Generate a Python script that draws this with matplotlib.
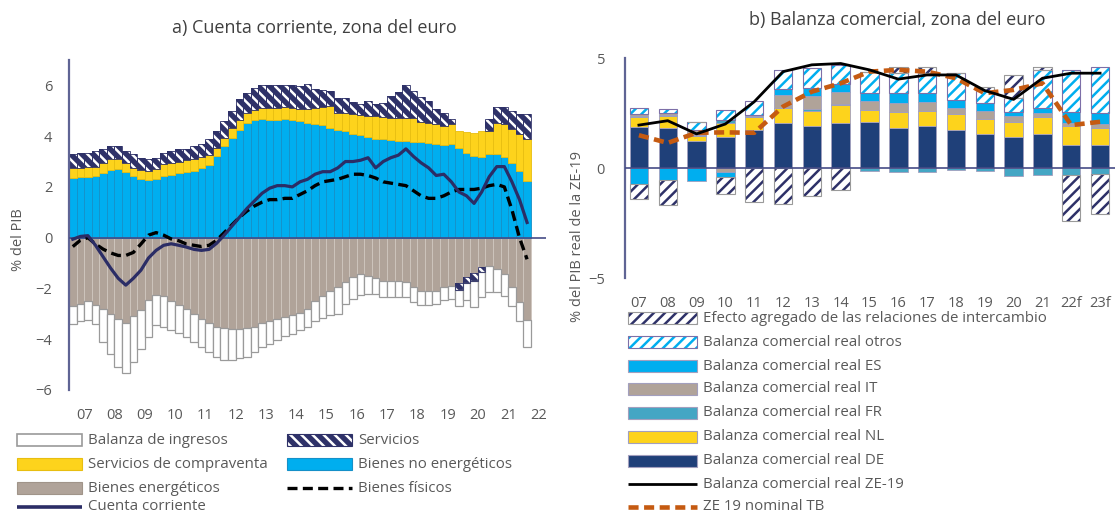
import matplotlib
matplotlib.use('Agg')
import matplotlib.pyplot as plt
import numpy as np
from matplotlib.patches import Rectangle

plt.rcParams['font.family'] = ['Open Sans', 'DejaVu Sans']
plt.rcParams['hatch.linewidth'] = 1.8

# ---------------- Panel a) data (quarterly 2007Q1 - 2022Q1) ----------------
years_a = ['07', '08', '09', '10', '11', '12', '13', '14', '15', '16', '17', '18', '19', '20', '21', '22']

bienes_energeticos = [
    -2.68, -2.60, -2.50, -2.65, -2.80, -3.00, -3.20, -3.35, -3.10, -2.85, -2.45, -2.25,
    -2.30, -2.50, -2.65, -2.80, -3.00, -3.20, -3.35, -3.50, -3.55, -3.60, -3.60, -3.55,
    -3.50, -3.35, -3.30, -3.20, -3.14, -3.05, -2.95, -2.80, -2.50, -2.30, -2.10, -1.95,
    -1.75, -1.55, -1.45, -1.50, -1.60, -1.70, -1.70, -1.70, -1.75, -1.95, -2.10, -2.10,
    -2.10, -1.95, -1.90, -1.80, -1.55, -1.40, -1.15, -1.10, -1.25, -1.45, -1.95, -2.55,
    -3.25]
bienes_no_energeticos = [
    2.37, 2.38, 2.40, 2.43, 2.55, 2.68, 2.70, 2.60, 2.42, 2.32, 2.27, 2.32,
    2.42, 2.47, 2.55, 2.58, 2.64, 2.74, 2.87, 3.20, 3.60, 3.93, 4.25, 4.50,
    4.65, 4.68, 4.65, 4.65, 4.67, 4.64, 4.60, 4.53, 4.47, 4.43, 4.33, 4.24,
    4.20, 4.10, 4.03, 3.97, 3.90, 3.87, 3.85, 3.81, 3.81, 3.77, 3.75, 3.72,
    3.68, 3.64, 3.68, 3.55, 3.35, 3.22, 3.16, 3.29, 3.29, 3.16, 2.96, 2.64,
    2.24]
servicios_compraventa = [
    0.39, 0.38, 0.38, 0.37, 0.41, 0.41, 0.39, 0.36, 0.34, 0.33, 0.36, 0.38,
    0.47, 0.49, 0.45, 0.47, 0.46, 0.44, 0.40, 0.34, 0.33, 0.40, 0.40, 0.40,
    0.39, 0.42, 0.45, 0.45, 0.46, 0.46, 0.46, 0.53, 0.63, 0.70, 0.84, 0.69,
    0.70, 0.76, 0.81, 0.83, 0.88, 0.89, 0.88, 0.92, 0.92, 0.93, 0.81, 0.81,
    0.79, 0.76, 0.79, 0.65, 0.81, 0.91, 1.04, 0.91, 1.24, 1.31, 1.31, 1.43,
    1.64]
servicios = [
    0.53, 0.57, 0.57, 0.62, 0.54, 0.51, 0.51, 0.46, 0.53, 0.47, 0.46, 0.45,
    0.46, 0.46, 0.48, 0.45, 0.50, 0.52, 0.61, 0.67, 0.67, 0.67, 0.80, 0.80,
    0.86, 0.90, 0.90, 0.90, 0.87, 0.90, 0.92, 0.98, 0.77, 0.69, 0.61, 0.59,
    0.59, 0.49, 0.43, 0.60, 0.49, 0.56, 0.85, 0.99, 1.27, 1.08, 0.99, 0.87,
    0.59, 0.53, 0.20, -0.25, -0.25, -0.30, -0.20, 0.47, 0.60, 0.66, 0.73, 0.79,
    0.98]
balanza_ingresos = [
    -0.72, -0.70, -0.75, -0.75, -1.30, -1.60, -1.90, -2.00, -1.80, -1.55, -1.45, -1.20,
    -1.20, -1.15, -1.10, -1.10, -1.10, -1.10, -1.15, -1.20, -1.25, -1.20, -1.15, -1.15,
    -1.00, -0.95, -0.90, -0.85, -0.73, -0.75, -0.70, -0.70, -0.80, -0.85, -0.95, -1.05,
    -0.85, -0.85, -0.80, -0.70, -0.60, -0.65, -0.65, -0.65, -0.60, -0.60, -0.55, -0.55,
    -0.50, -0.50, -0.50, -0.65, -0.65, -1.05, -1.00, -1.05, -0.90, -0.85, -0.75, -0.75,
    -1.05]
bienes_fisicos = [
    -0.35, -0.10, 0.00, -0.25, -0.45, -0.60, -0.70, -0.70, -0.58, -0.25, 0.10, 0.20,
    0.10, -0.05, -0.12, -0.25, -0.30, -0.35, -0.30, -0.10, 0.20, 0.50, 0.80, 1.05,
    1.25, 1.40, 1.50, 1.50, 1.55, 1.55, 1.70, 1.85, 2.05, 2.20, 2.25, 2.30,
    2.40, 2.50, 2.50, 2.45, 2.35, 2.20, 2.15, 2.10, 2.05, 1.85, 1.65, 1.55,
    1.55, 1.65, 1.80, 1.90, 1.90, 1.90, 1.95, 2.05, 2.10, 2.00, 1.10, 0.00,
    -0.85]
cuenta_corriente = [
    -0.06, 0.05, 0.08, -0.30, -0.75, -1.20, -1.60, -1.87, -1.60, -1.28, -0.80, -0.50,
    -0.30, -0.24, -0.30, -0.37, -0.46, -0.50, -0.46, -0.22, 0.10, 0.45, 0.80, 1.15,
    1.45, 1.75, 1.95, 2.05, 2.05, 2.00, 2.20, 2.30, 2.50, 2.60, 2.60, 2.75,
    3.00, 3.00, 3.05, 3.15, 2.75, 3.00, 3.15, 3.25, 3.50, 3.20, 2.95, 2.75,
    2.45, 2.50, 2.20, 1.80, 1.65, 1.35, 1.80, 2.40, 2.80, 2.80, 2.20, 1.50,
    0.60]

# ---------------- Panel b) data (annual 2007 - 2023f) ----------------
years_b = ['07', '08', '09', '10', '11', '12', '13', '14', '15', '16', '17', '18', '19', '20', '21', '22f', '23f']
bc_DE = [1.87, 1.84, 1.22, 1.42, 1.72, 2.06, 1.90, 2.06, 2.10, 1.84, 1.90, 1.72, 1.54, 1.39, 1.54, 1.04, 1.04]
bc_NL = [0.43, 0.52, 0.23, 0.63, 0.58, 0.65, 0.70, 0.80, 0.53, 0.72, 0.70, 0.73, 0.67, 0.71, 0.76, 0.86, 0.80]
bc_FR = [0.05, 0.05, 0.07, 0.13, 0.05, 0.03, 0.10, 0.05, -0.15, -0.20, -0.20, -0.10, -0.12, -0.37, -0.30, -0.30, -0.25]
bc_IT = [0.10, 0.07, 0.20, -0.18, 0.05, 0.56, 0.57, 0.54, 0.42, 0.41, 0.41, 0.26, 0.39, 0.26, 0.21, 0.13, 0.14]
bc_ES = [-0.74, -0.56, -0.60, -0.22, 0.00, 0.28, 0.36, 0.38, 0.35, 0.43, 0.39, 0.38, 0.34, 0.20, 0.20, 0.53, 0.50]
bc_otros = [0.28, 0.22, 0.38, 0.45, 0.65, 0.88, 0.91, 0.83, 0.98, 0.90, 0.90, 1.25, 0.56, 0.61, 1.75, 1.89, 2.13]
efecto_rel_intercambio = [-0.66, -1.10, 0.00, -0.80, -1.55, -1.63, -1.29, -0.99, 0.00, 0.30, 0.30, 0.00, 0.20, 1.06, 0.15, -2.09, -1.86]
bc_real_ZE19 = [1.95, 2.15, 1.55, 2.00, 3.01, 4.38, 4.69, 4.75, 4.46, 4.04, 4.23, 4.23, 3.52, 3.12, 4.08, 4.31, 4.31]
ze19_nominal_TB = [1.49, 1.14, 1.60, 1.62, 1.60, 2.79, 3.47, 3.85, 4.38, 4.46, 4.38, 4.08, 3.40, 3.55, 3.85, 1.95, 2.10]

# ---------------- styles ----------------
GREY_TXT = '#595959'
NAVY = '#2E3168'
BLUE = '#00AEEF'
YELLOW = '#FDD31C'
BROWN = '#B0A399'
DEBLUE = '#1F4079'
TEAL = '#44A6C4'
ORANGE = '#C55A11'
AXCOL = '#5F6494'
LEG_FS = 10.8

W, H = 1116, 517
fig = plt.figure(figsize=(W / 100, H / 100), dpi=100)


def rect(x0, y0, x1, y1):
    return [x0 / W, 1 - y1 / H, (x1 - x0) / W, (y1 - y0) / H]


def stacked(ax, x, series, width):
    pos = np.zeros(len(x))
    neg = np.zeros(len(x))
    for vals, st in series:
        v = np.array(vals, dtype=float)
        bottom = np.where(v >= 0, pos, neg)
        hatch = st.get('hatch')
        if hatch:
            ax.bar(x, v, bottom=bottom, width=width, color=st['face'], edgecolor=st['hcol'],
                   hatch=hatch, linewidth=0, zorder=2)
            ax.bar(x, v, bottom=bottom, width=width, fill=False, edgecolor=st['edge'],
                   linewidth=st.get('lw', 0.6), zorder=2.1)
        else:
            ax.bar(x, v, bottom=bottom, width=width, color=st['face'], edgecolor=st['edge'],
                   linewidth=st.get('lw', 0.6), zorder=2)
        pos = pos + np.clip(v, 0, None)
        neg = neg + np.clip(v, None, 0)


def style_axis(ax):
    for s in ['top', 'right', 'bottom']:
        ax.spines[s].set_visible(False)
    ax.spines['left'].set_color(AXCOL)
    ax.spines['left'].set_linewidth(1.6)
    ax.tick_params(axis='both', length=0, colors=GREY_TXT, labelsize=10.5)
    ax.axhline(0, color='#454C86', lw=1.2, zorder=3)
    ax.set_facecolor('none')


# ---------------- Panel a ----------------
axL = fig.add_axes(rect(69, 60, 546, 390))
n = len(cuenta_corriente)
xq = np.arange(n)
stacked(axL, xq, [
    (bienes_energeticos, dict(face=BROWN, edge='#CFC6BF', lw=0.6)),
    (bienes_no_energeticos, dict(face=BLUE, edge='#1590C8', lw=0.6)),
    (servicios_compraventa, dict(face=YELLOW, edge='#E8BE10', lw=0.6)),
    (servicios, dict(face=NAVY, hcol='white', hatch='\\\\\\', edge=NAVY, lw=0.6)),
    (balanza_ingresos, dict(face='white', edge='#9A9A9A', lw=0.9)),
], width=1.0)
axL.plot(xq, bienes_fisicos, color='black', lw=2.4, dashes=(3, 1.6), zorder=4)
axL.plot(xq, cuenta_corriente, color='#2B2D66', lw=2.3, zorder=5)
axL.set_xlim(-0.5, 62.5)
axL.set_ylim(-6, 7)
axL.set_yticks([-6, -4, -2, 0, 2, 4, 6])
axL.set_xticks(np.arange(len(years_a)) * 4 + 1.5)
axL.set_xticklabels(years_a)
style_axis(axL)
axL.tick_params(axis='y', pad=12)
axL.tick_params(axis='x', pad=13)

# ---------------- Panel b ----------------
axR = fig.add_axes(rect(624.5, 58, 1114.5, 278))
xb = np.arange(len(years_b))
EDGE_B = '#A29FBE'
stacked(axR, xb, [
    (bc_DE, dict(face=DEBLUE, edge=EDGE_B)),
    (bc_NL, dict(face=YELLOW, edge=EDGE_B)),
    (bc_FR, dict(face=TEAL, edge=EDGE_B)),
    (bc_IT, dict(face=BROWN, edge=EDGE_B)),
    (bc_ES, dict(face=BLUE, edge=EDGE_B)),
    (bc_otros, dict(face='white', hcol=BLUE, hatch='///', edge='#7D6FA8', lw=0.8)),
    (efecto_rel_intercambio, dict(face='white', hcol=NAVY, hatch='///', edge='#9A9A9A', lw=0.8)),
], width=0.64)
axR.plot(xb, bc_real_ZE19, color='black', lw=2.0, zorder=5)
axR.plot(xb, ze19_nominal_TB, color=ORANGE, lw=3.3, dashes=(2.2, 1.2), zorder=4)
axR.set_xlim(-0.5, 16.5)
axR.set_ylim(-5, 5)
axR.set_yticks([-5, 0, 5])
axR.set_xticks(xb)
axR.set_xticklabels(years_b)
style_axis(axR)
axR.tick_params(axis='y', pad=14)
axR.tick_params(axis='x', pad=13)

# ---------------- titles / labels ----------------
fig.text(314 / W, 1 - 28 / H, 'a) Cuenta corriente, zona del euro', ha='center', va='center',
         fontsize=13, color='#404040')
fig.text(897 / W, 1 - 20 / H, 'b) Balanza comercial, zona del euro', ha='center', va='center',
         fontsize=13, color='#404040')
fig.text(18 / W, 1 - 240 / H, '% del PIB', rotation=90, ha='center', va='center',
         fontsize=10.5, color=GREY_TXT)
fig.text(578 / W, 1 - 237 / H, '% del PIB real de la ZE-19', rotation=90, ha='center', va='center',
         fontsize=10.5, color=GREY_TXT)

# ---------------- legends (drawn on an overlay in pixel units) ----------------
ov = fig.add_axes([0, 0, 1, 1])
ov.set_xlim(0, W)
ov.set_ylim(H, 0)
ov.axis('off')
ov.set_facecolor('none')


def leg_patch(x, y, w, text, face, edge, hatch=None, hcol=None, lw=0.8, fs=LEG_FS):
    if hatch:
        ov.add_patch(Rectangle((x, y - 6), w, 12, facecolor=face, edgecolor=hcol, hatch=hatch, lw=0))
        ov.add_patch(Rectangle((x, y - 6), w, 12, fill=False, edgecolor=edge, lw=lw))
    else:
        ov.add_patch(Rectangle((x, y - 6), w, 12, facecolor=face, edgecolor=edge, lw=lw))
    ov.text(x + w + 6, y, text, va='center', ha='left', fontsize=fs, color=GREY_TXT)


def leg_line(x, y, w, text, color, lw, dashes=None, fs=LEG_FS):
    if dashes:
        ov.plot([x, x + w], [y, y], color=color, lw=lw, dashes=dashes, solid_capstyle='butt')
    else:
        ov.plot([x, x + w], [y, y], color=color, lw=lw, solid_capstyle='butt')
    ov.text(x + w + 6, y, text, va='center', ha='left', fontsize=fs, color=GREY_TXT)


c1, c2, lw_ = 17, 287, 65
leg_patch(c1, 440, lw_, 'Balanza de ingresos', 'white', '#9A9A9A', lw=1.2)
leg_patch(c2, 440, lw_, 'Servicios', NAVY, NAVY, hatch='\\\\\\', hcol='white')
leg_patch(c1, 464, lw_, 'Servicios de compraventa', YELLOW, '#E8BE10')
leg_patch(c2, 464, lw_, 'Bienes no energéticos', BLUE, '#1590C8')
leg_patch(c1, 488, lw_, 'Bienes energéticos', BROWN, '#A09489')
leg_line(c2, 488, lw_, 'Bienes físicos', 'black', 2.4, dashes=(3, 1.6))
leg_line(c1, 507, lw_, 'Cuenta corriente', '#2B2D66', 2.6)

rx, rw = 628, 69
rows = [318, 342, 366, 389, 413, 437, 461, 484, 507]
leg_patch(rx, rows[0], rw, 'Efecto agregado de las relaciones de intercambio', 'white', '#9A9A9A',
          hatch='///', hcol=NAVY)
leg_patch(rx, rows[1], rw, 'Balanza comercial real otros', 'white', '#7D6FA8', hatch='///', hcol=BLUE)
leg_patch(rx, rows[2], rw, 'Balanza comercial real ES', BLUE, EDGE_B)
leg_patch(rx, rows[3], rw, 'Balanza comercial real IT', BROWN, EDGE_B)
leg_patch(rx, rows[4], rw, 'Balanza comercial real FR', TEAL, EDGE_B)
leg_patch(rx, rows[5], rw, 'Balanza comercial real NL', YELLOW, EDGE_B)
leg_patch(rx, rows[6], rw, 'Balanza comercial real DE', DEBLUE, EDGE_B)
leg_line(rx, rows[7], rw, 'Balanza comercial real ZE-19', 'black', 2.0)
leg_line(rx, rows[8], rw, 'ZE 19 nominal TB', ORANGE, 3.3, dashes=(2.2, 1.2))

fig.savefig('out.png', dpi=100)
